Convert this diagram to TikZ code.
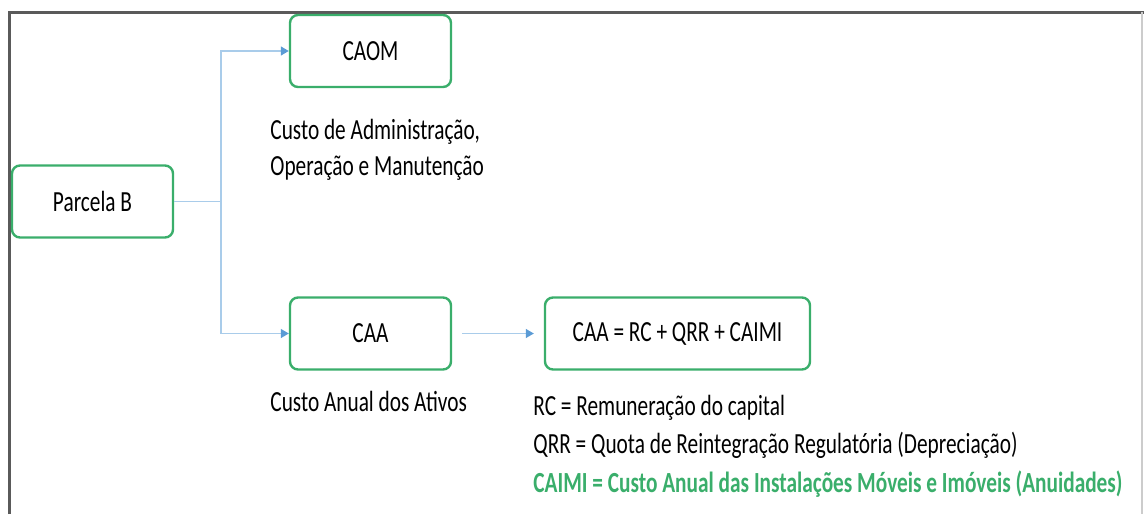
\documentclass[tikz,border=0pt]{standalone}
\usepackage{fontspec}
\setmainfont{Carlito}[FakeStretch=0.73]
\usetikzlibrary{arrows.meta}

\definecolor{boxgreen}{HTML}{3AAE6B}
\definecolor{linkblue}{HTML}{A9CCEA}
\definecolor{tipblue}{HTML}{5B9BD5}
\definecolor{framegray}{HTML}{5A5A5A}

\tikzset{
  box/.style={draw=boxgreen, line width=1.2pt, rounded corners=4pt,
    minimum width=80.5pt, minimum height=36pt, inner sep=0pt},
  link/.style={draw=linkblue, line width=0.6pt,
    -{Triangle[length=4pt,width=4.5pt,color=tipblue]}},
  desc/.style={inner sep=0pt, anchor=base west}
}

\begin{document}
\begin{tikzpicture}[x=0.5pt, y=-0.5pt, font=\fontsize{14.6pt}{18pt}\selectfont]
        \useasboundingbox (0,0) rectangle (1144,514);
        % frame
        \draw[framegray, line width=1.5pt] (9,514) -- (9,12) -- (1144,12);
        \draw[gray!40, line width=0.8pt] (1142,12) -- (1142,514);
        % boxes
        \node[box] (parcela) at (92.5,201.5) {Parcela B};
        \node[box] (caom) at (370.5,51) {CAOM};
        \node[box] (caa) at (370.5,333.5) {CAA};
        \node[box, minimum width=132.5pt] (formula) at (677.5,333.5) {CAA = RC + QRR + CAIMI};
        % connectors
        \coordinate (split) at (221,201.5);
        \draw[draw=linkblue, line width=0.6pt] (parcela.east) -- (split);
        \draw[link] (split) |- (caom.west);
        \draw[link] (split) |- (caa.west);
        \draw[link] ([xshift=5pt]caa.east) -- ([xshift=-5pt]formula.west);
        % texts
        \node[desc] (caomdesc1) at (270,139) {Custo de Administração,};
        \node[desc] (caomdesc2) at (270,175) {Operação e Manutenção};
        \node[desc] (caadesc) at (270,411) {Custo Anual dos Ativos};
        \node[desc] (rc) at (533,415) {RC = Remuneração do capital};
        \node[desc] (qrr) at (533,453) {QRR = Quota de Reintegração Regulatória (Depreciação)};
        \node[desc, text=boxgreen, font=\fontsize{14.6pt}{18pt}\selectfont\bfseries] (caimi) at (533,492)
          {CAIMI = Custo Anual das Instalações Móveis e Imóveis (Anuidades)};
    \end{tikzpicture}
\end{document}
